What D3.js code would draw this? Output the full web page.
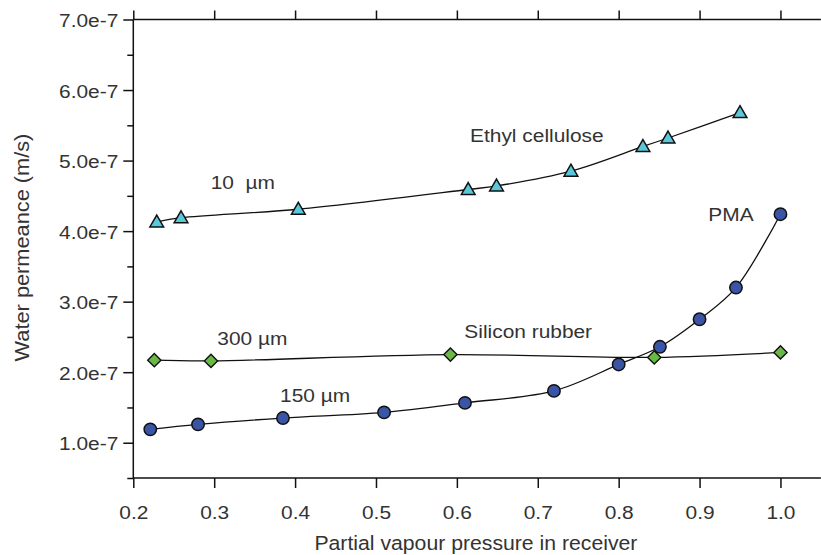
<!DOCTYPE html>
<html>
<head>
<meta charset="utf-8">
<script src="https://cdn.jsdelivr.net/npm/d3@7"></script>
<style>
  html, body { margin: 0; padding: 0; background: #fff; }
  svg { display: block; }
  text { font-family: "Liberation Sans", Arial, Helvetica, sans-serif; fill: #333; }
</style>
</head>
<body>
<svg id="chart" width="821" height="555"></svg>
<script>
// Partial vapour pressure in receiver (x) and water permeance in m/s (y)
const ethylX = [0.229, 0.259, 0.404, 0.614, 0.649, 0.741, 0.830, 0.861, 0.950];
const ethylY = [4.13e-7, 4.19e-7, 4.31e-7, 4.59e-7, 4.64e-7, 4.85e-7, 5.20e-7, 5.32e-7, 5.68e-7];

const pmaX = [0.221, 0.280, 0.385, 0.510, 0.610, 0.720, 0.800, 0.851, 0.900, 0.945, 1.000];
const pmaY = [1.19e-7, 1.26e-7, 1.35e-7, 1.43e-7, 1.565e-7, 1.735e-7, 2.11e-7, 2.36e-7, 2.75e-7, 3.20e-7, 4.24e-7];

const siliconX = [0.226, 0.296, 0.592, 0.844, 1.000];
const siliconY = [2.17e-7, 2.16e-7, 2.25e-7, 2.21e-7, 2.28e-7];

const xTicks = [0.2, 0.3, 0.4, 0.5, 0.6, 0.7, 0.8, 0.9, 1.0];
const yTicks = [1e-7, 2e-7, 3e-7, 4e-7, 5e-7, 6e-7, 7e-7];
const yMinorTicks = [0.5e-7, 1.5e-7, 2.5e-7, 3.5e-7, 4.5e-7, 5.5e-7, 6.5e-7];

const xTitle = "Partial vapour pressure in receiver";
const yTitle = "Water permeance (m/s)";

const annotations = [
  { text: "Ethyl cellulose", x: 0.6163, y: 5.258e-7 },
  { text: "10  µm",          x: 0.2957, y: 4.591e-7 },
  { text: "PMA",             x: 0.9108, y: 4.146e-7 },
  { text: "300 µm",          x: 0.3038, y: 2.383e-7 },
  { text: "Silicon rubber",  x: 0.6092, y: 2.478e-7 },
  { text: "150 µm",          x: 0.3814, y: 1.579e-7 }
];

const margin = { left: 133.3, top: 19.5, right: 0.1, bottom: 77 };
const W = 821, H = 555;
const svg = d3.select("#chart");

const x = d3.scaleLinear().domain([0.2, 1.05]).range([margin.left, W - margin.right]);
const y = d3.scaleLinear().domain([0.5e-7, 7.0e-7]).range([H - margin.bottom, margin.top]);

const SX = 1.1;           // horizontal stretch of the lettering
const FONT = 19;

// frame lines
const frame = svg.append("g").attr("stroke", "#111").attr("stroke-width", 1.5).attr("fill", "none");
frame.append("line").attr("x1", x(0.2)).attr("x2", x(1.05)).attr("y1", y(7e-7)).attr("y2", y(7e-7));
frame.append("line").attr("x1", x(0.2)).attr("x2", x(1.05)).attr("y1", y(0.5e-7)).attr("y2", y(0.5e-7));
frame.append("line").attr("x1", x(0.2)).attr("x2", x(0.2)).attr("y1", y(7e-7)).attr("y2", y(0.5e-7));

function styleAxis(g) {
  g.select(".domain").remove();
  g.selectAll(".tick line").attr("stroke", "#111").attr("stroke-width", 1.5);
}

// bottom axis
svg.append("g")
  .attr("transform", `translate(0,${y(0.5e-7)})`)
  .call(d3.axisBottom(x).tickValues(xTicks).tickSize(10).tickFormat(d3.format(".1f")))
  .call(styleAxis)
  .call(g => g.selectAll(".tick text")
    .attr("y", 0).attr("dy", 0)
    .attr("transform", `translate(0,41.3) scale(${SX},1)`)
    .attr("fill", "#333")
    .style("font-size", FONT + "px")
    .style("font-family", "'Liberation Sans', Arial, sans-serif"));

// top axis (ticks only)
svg.append("g")
  .attr("transform", `translate(0,${y(7e-7)})`)
  .call(d3.axisTop(x).tickValues(xTicks).tickSize(9).tickFormat(""))
  .call(styleAxis);

// left axis
svg.append("g")
  .attr("transform", `translate(${x(0.2)},0)`)
  .call(d3.axisLeft(y).tickValues(yTicks).tickSize(10)
    .tickFormat(d => (d * 1e7).toFixed(1) + "e-7"))
  .call(styleAxis)
  .call(g => g.selectAll(".tick text")
    .attr("x", 0).attr("dy", 0)
    .attr("transform", `translate(-15,7) scale(${SX},1)`)
    .attr("fill", "#333")
    .style("font-size", FONT + "px")
    .style("font-family", "'Liberation Sans', Arial, sans-serif"));

svg.append("g")
  .attr("transform", `translate(${x(0.2)},0)`)
  .call(d3.axisLeft(y).tickValues(yMinorTicks).tickSize(6).tickFormat(""))
  .call(styleAxis);

// axis titles
svg.append("text")
  .attr("transform", `translate(${(x(0.2) + x(1.0)) / 2 + 19},550) scale(${SX},1)`)
  .attr("text-anchor", "middle")
  .style("font-size", "19.3px")
  .text(xTitle);

svg.append("text")
  .attr("transform", `translate(28.5,247.5) rotate(-90) scale(${SX},1)`)
  .attr("text-anchor", "middle")
  .style("font-size", "19.8px")
  .text(yTitle);

// curves
const curve = d3.line().x(d => x(d[0])).y(d => y(d[1])).curve(d3.curveCatmullRom.alpha(0.5));
const series = [
  { xs: siliconX, ys: siliconY, symbol: "diamond", fill: "#6ab945" },
  { xs: pmaX,     ys: pmaY,     symbol: "circle",  fill: "#3a54a6" },
  { xs: ethylX,   ys: ethylY,   symbol: "triangle", fill: "#5ac8d8" }
];

series.forEach(s => {
  const pts = s.xs.map((v, i) => [v, s.ys[i]]);
  svg.append("path")
    .datum(pts)
    .attr("d", curve)
    .attr("fill", "none")
    .attr("stroke", "#111")
    .attr("stroke-width", 1.3);
});

series.forEach(s => {
  const pts = s.xs.map((v, i) => [v, s.ys[i]]);
  const g = svg.append("g");
  if (s.symbol === "circle") {
    g.selectAll("circle").data(pts).join("circle")
      .attr("cx", d => x(d[0])).attr("cy", d => y(d[1])).attr("r", 6.2)
      .attr("fill", s.fill).attr("stroke", "#111").attr("stroke-width", 1.5);
  } else if (s.symbol === "triangle") {
    const sym = d3.symbol().type(d3.symbolTriangle).size(82);
    g.selectAll("path").data(pts).join("path")
      .attr("d", sym)
      .attr("transform", d => `translate(${x(d[0])},${y(d[1]) + 1})`)
      .attr("fill", s.fill).attr("stroke", "#111").attr("stroke-width", 1.5)
      .attr("stroke-linejoin", "miter");
  } else {
    const sym = d3.symbol().type(d3.symbolSquare).size(88);
    g.selectAll("path").data(pts).join("path")
      .attr("d", sym)
      .attr("transform", d => `translate(${x(d[0])},${y(d[1])}) rotate(45)`)
      .attr("fill", s.fill).attr("stroke", "#111").attr("stroke-width", 1.4);
  }
});

// series annotations
svg.append("g").selectAll("text").data(annotations).join("text")
  .attr("transform", d => `translate(${x(d.x)},${y(d.y)}) scale(${SX},1)`)
  .attr("text-anchor", "start")
  .style("font-size", FONT + "px")
  .style("white-space", "pre")
  .text(d => d.text);
</script>
</body>
</html>
